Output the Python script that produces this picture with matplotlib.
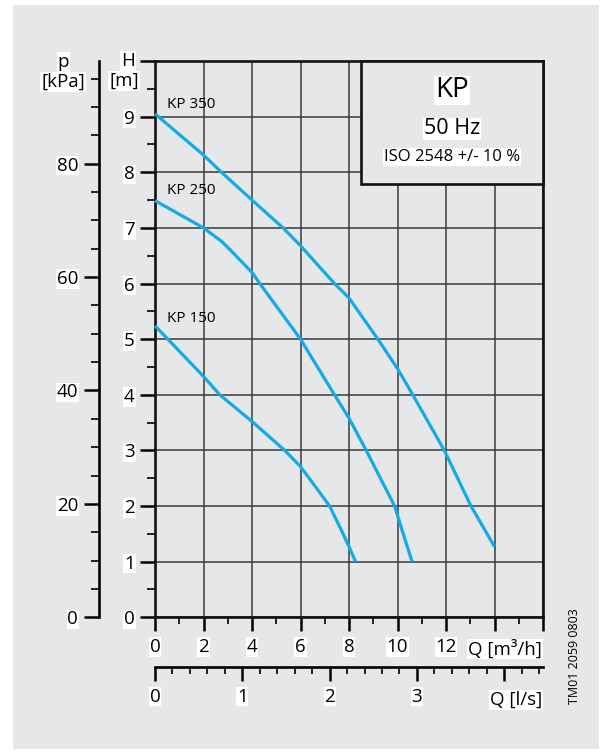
import matplotlib.pyplot as plt
from matplotlib.patches import Rectangle
from matplotlib.ticker import MultipleLocator

plt.rcParams['font.family'] = ['Open Sans', 'DejaVu Sans']

# pump curves: Q [m3/h], H [m]
q_kp350 = [0, 2, 2.74, 4, 5.28, 6, 7.4, 8, 9.19, 10, 10.63, 11.93, 13.03, 14]
h_kp350 = [9.05, 8.31, 8, 7.5, 7, 6.68, 6, 5.74, 5, 4.47, 4, 3, 2, 1.27]

q_kp250 = [0, 2, 2.74, 3.09, 4, 4.32, 6, 7.4, 8, 8.71, 9.26, 9.88, 10.36, 10.6]
h_kp250 = [7.49, 7.0, 6.76, 6.61, 6.2, 6, 5.0, 4, 3.58, 3, 2.53, 2, 1.33, 1.0]

q_kp150 = [0, 2, 2.67, 4, 4.73, 5.35, 6, 6.51, 7.2, 7.68, 8, 8.27]
h_kp150 = [5.24, 4.33, 4, 3.52, 3.24, 3, 2.71, 2.41, 2, 1.57, 1.27, 1.0]

curve_names = ['KP 350', 'KP 250', 'KP 150']
name_pos = [(0.48, 9.21), (0.48, 7.67), (0.48, 5.38)]

h_ticks = [0, 1, 2, 3, 4, 5, 6, 7, 8, 9, 10]
h_labels = ['0', '1', '2', '3', '4', '5', '6', '7', '8', '9', '']
q_ticks = [0, 2, 4, 6, 8, 10, 12, 14, 16]
q_labels = ['0', '2', '4', '6', '8', '10', '12', '', '']
p_ticks = [0, 20, 40, 60, 80]
ls_ticks = [0, 1, 2, 3, 4]
ls_labels = ['0', '1', '2', '3', '']

bg = '#e6e7e8'
blue = '#14aae4'
fs = 13.5
white_box = dict(facecolor='white', edgecolor='none', pad=0.6)

fig = plt.figure(figsize=(6.02, 7.53), dpi=100)
fig.add_artist(Rectangle((13 / 602, 4 / 753), 586 / 602, 744 / 753,
                         transform=fig.transFigure, facecolor=bg,
                         edgecolor='none', zorder=-10))

ax = fig.add_axes([155 / 602, 1 - 617.3 / 753, 388 / 602, 556.3 / 753])
ax.set_facecolor(bg)
ax.set_xlim(0, 16)
ax.set_ylim(0, 10)

for s in ax.spines.values():
    s.set_linewidth(1.9)
    s.set_color('#111111')

ax.set_yticks(h_ticks, h_labels)
ax.yaxis.set_minor_locator(MultipleLocator(0.5))
ax.set_xticks(q_ticks, q_labels)
ax.xaxis.set_minor_locator(MultipleLocator(1))
ax.tick_params(axis='y', which='major', length=11, width=1.8, pad=3.5, labelsize=fs)
ax.tick_params(axis='y', which='minor', length=6, width=1.2)
ax.tick_params(axis='x', which='major', length=10, width=1.8, pad=5, labelsize=fs)
ax.tick_params(axis='x', which='minor', length=5, width=1.2)
ax.grid(True, which='major', color='#3a3a3a', linewidth=1.1)
ax.set_axisbelow(True)
for lbl in ax.get_xticklabels() + ax.get_yticklabels():
    lbl.set_bbox(white_box)

# pressure axis on the left
p_ax = ax.secondary_yaxis(-56 / 388, functions=(lambda h: h * 9.81, lambda p: p / 9.81))
p_ax.set_yticks(p_ticks)
p_ax.yaxis.set_minor_locator(MultipleLocator(5))
p_ax.spines['left'].set_linewidth(1.9)
p_ax.tick_params(axis='y', which='major', length=11, width=1.8, pad=4, labelsize=fs)
p_ax.tick_params(axis='y', which='minor', length=6, width=1.2)
for lbl in p_ax.get_yticklabels():
    lbl.set_bbox(white_box)

# flow axis in l/s below
ls_ax = ax.secondary_xaxis(-49.4 / 556.3, functions=(lambda q: q / 3.6, lambda l: l * 3.6))
ls_ax.set_xticks(ls_ticks, ls_labels)
ls_ax.xaxis.set_minor_locator(MultipleLocator(0.2))
ls_ax.spines['bottom'].set_linewidth(1.9)
ls_ax.tick_params(axis='x', which='major', length=10, width=1.8, pad=5, labelsize=fs)
ls_ax.tick_params(axis='x', which='minor', length=5, width=1.2)
for lbl in ls_ax.get_xticklabels():
    lbl.set_bbox(white_box)

# curves
for q, h in [(q_kp350, h_kp350), (q_kp250, h_kp250), (q_kp150, h_kp150)]:
    ax.plot(q, h, color=blue, linewidth=2.3, solid_capstyle='butt',
            solid_joinstyle='round', zorder=4, clip_on=False)
for name, (x, y) in zip(curve_names, name_pos):
    ax.text(x, y, name, fontsize=11, ha='left', va='center', zorder=5)

# title box
ax.add_patch(Rectangle((8.5, 7.78), 7.5, 2.22, facecolor=bg, edgecolor='#111111',
                       linewidth=1.9, zorder=3, clip_on=False))
ax.text(12.25, 9.47, 'KP', fontsize=20, ha='center', va='center', bbox=white_box, zorder=5)
ax.text(12.25, 8.78, '50 Hz', fontsize=15.5, ha='center', va='center', bbox=white_box, zorder=5)
ax.text(12.25, 8.27, 'ISO 2548 +/- 10 %', fontsize=12, ha='center', va='center', bbox=white_box, zorder=5)

# axis captions
fig.text(128 / 602, 1 - 61 / 753, 'H', fontsize=fs, ha='center', va='center', bbox=white_box)
fig.text(124 / 602, 1 - 81 / 753, '[m]', fontsize=fs, ha='center', va='center', bbox=white_box)
fig.text(63 / 602, 1 - 62 / 753, 'p', fontsize=fs, ha='center', va='center', bbox=white_box)
fig.text(63 / 602, 1 - 82 / 753, '[kPa]', fontsize=fs, ha='center', va='center', bbox=white_box)
fig.text(542 / 602, 1 - 649 / 753, 'Q [m³/h]', fontsize=fs, ha='right', va='center', bbox=white_box)
fig.text(542 / 602, 1 - 700 / 753, 'Q [l/s]', fontsize=fs, ha='right', va='center', bbox=white_box)
fig.text(574 / 602, 1 - 656 / 753, 'TM01 2059 0803', fontsize=9, rotation=90,
         ha='center', va='center')

fig.savefig('out.png', dpi=100)
